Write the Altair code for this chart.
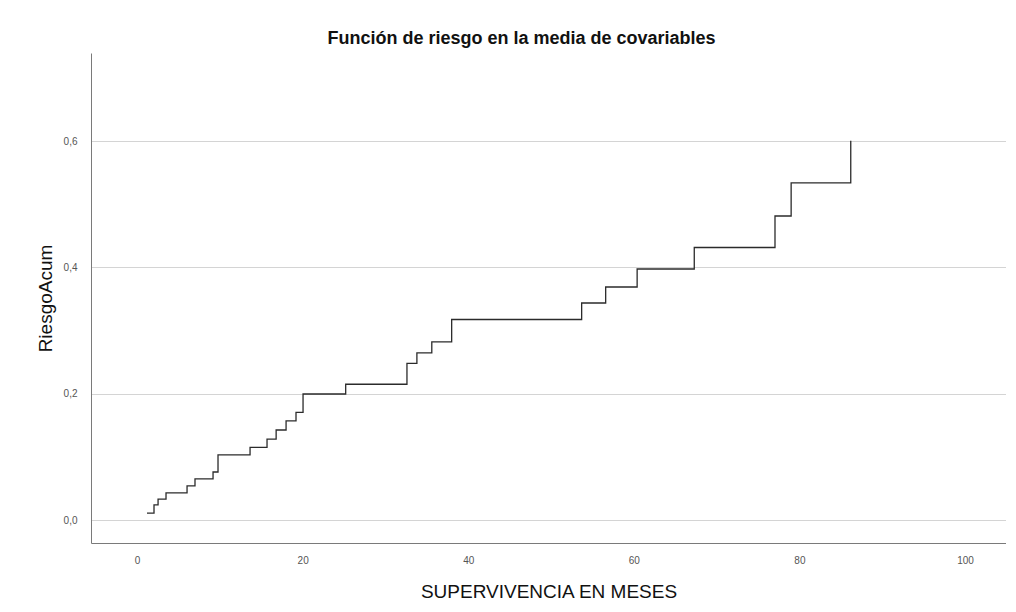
import altair as alt
import pandas as pd

# Step times (months) and cumulative hazard values
times = [1.2, 2.05, 2.54, 3.5, 6.04, 7.0, 9.18, 9.78, 13.65, 15.7, 16.8, 18.0, 19.2,
         20.05, 25.2, 32.6, 33.8, 35.6, 38.0, 53.7, 56.6, 60.4, 67.3, 77.05, 79.0, 86.2]
hazard = [0.011, 0.024, 0.033, 0.043, 0.054, 0.065, 0.076, 0.103, 0.115, 0.128, 0.1425,
          0.157, 0.1705, 0.1995, 0.215, 0.248, 0.2645, 0.282, 0.3175, 0.3436, 0.369,
          0.3975, 0.4315, 0.4814, 0.534, 0.6006]

x_ticks = [0, 20, 40, 60, 80, 100]
y_ticks = [0.0, 0.2, 0.4, 0.6]

df = pd.DataFrame({"t": times, "h": hazard})

FONT = "Liberation Sans"

line = alt.Chart(df).mark_line(
    interpolate="step-after", color="#2b2b2b", strokeWidth=1.3
).encode(
    x=alt.X("t:Q",
            scale=alt.Scale(domain=[-5.56, 104.95], nice=False, zero=False),
            axis=alt.Axis(values=x_ticks, title="SUPERVIVENCIA EN MESES", grid=False,
                          ticks=False, domain=True, domainColor="#7a7a7a",
                          labelColor="#555555", labelFontSize=10, labelPadding=12,
                          labelFont=FONT, titleFont=FONT, titleFontSize=19,
                          titleFontWeight="normal", titleColor="#111111",
                          titlePadding=17)),
    y=alt.Y("h:Q",
            scale=alt.Scale(domain=[-0.0364, 0.7395], nice=False, zero=False),
            axis=alt.Axis(values=y_ticks, title="RiesgoAcum", grid=True,
                          gridColor="#d4d4d4", gridWidth=1.2,
                          ticks=False, domain=True, domainColor="#7a7a7a",
                          labelColor="#555555", labelFontSize=10, labelPadding=14,
                          labelExpr="replace(format(datum.value, '.1f'), '.', ',')",
                          labelFont=FONT, titleFont=FONT, titleFontSize=19,
                          titleFontWeight="normal", titleColor="#111111",
                          titlePadding=8))
)

chart = line.properties(
    width=915,
    height=490,
    background="white",
    title=alt.TitleParams("Función de riesgo en la media de covariables",
                          font=FONT, fontSize=18, fontWeight="bold", color="#111111",
                          anchor="middle", dx=-27, offset=5),
    autosize=alt.AutoSizeParams(type="none"),
    padding={"left": 83, "top": 45, "right": 0, "bottom": 60},
).configure_view(stroke="transparent", strokeWidth=0)

chart.save("out.html", embed_options={"renderer": "svg", "actions": False})
